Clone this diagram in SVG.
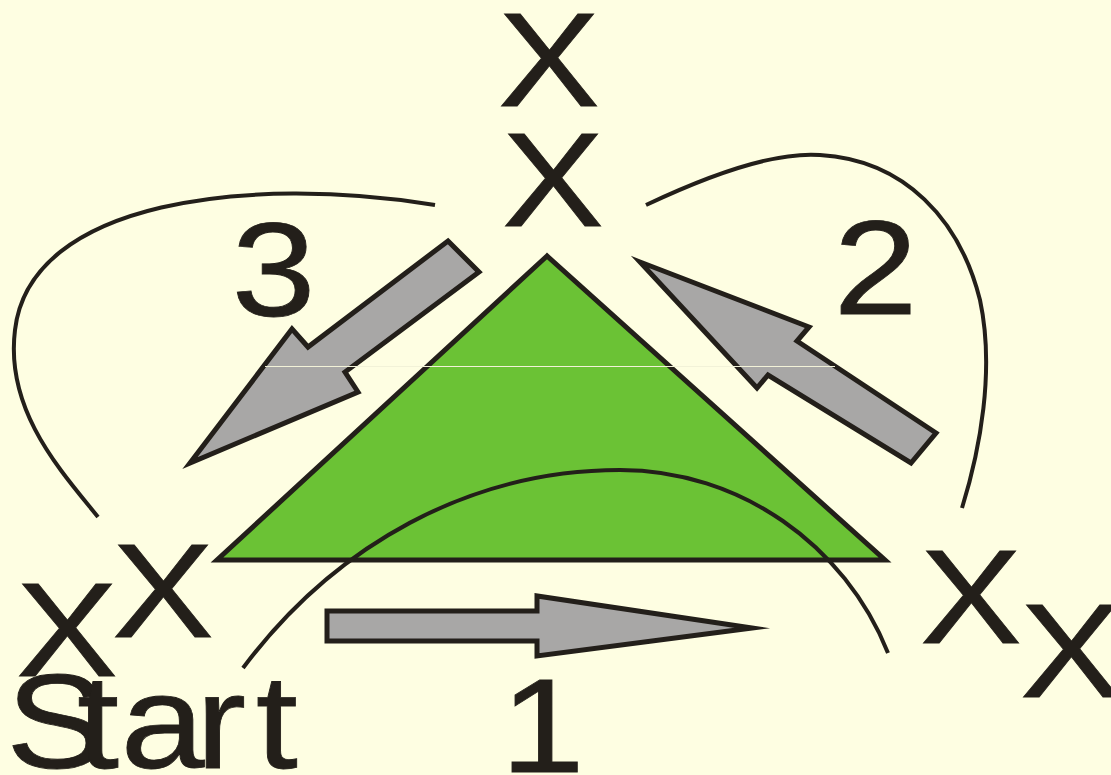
<svg xmlns="http://www.w3.org/2000/svg" width="1111" height="775" viewBox="0 0 1111 775">
<style>
.t{font-family:"Liberation Sans",Arial,sans-serif;font-size:134px;fill:#231F1A;stroke:#231F1A;stroke-width:0.8}
.arr{fill:#A8A7A6;stroke:#231F1A;stroke-width:5;stroke-linejoin:miter;stroke-miterlimit:20}
.cur{fill:none;stroke:#231F1A;stroke-width:4}
</style>
<rect width="1111" height="775" fill="#FEFEE2"/>
<g id="triangle">
<polygon points="547,256 217,560 885,560" fill="#6BC235" stroke="#231F1A" stroke-width="5" stroke-linejoin="miter" stroke-miterlimit="20"/>
</g>
<g id="connectors">
<path class="cur" d="M435,205 C250,175 30,200 15,330 C5,410 60,470 98,517"/>
<path class="cur" d="M646,205 C720,170 780,152 820,155 C905,160 960,220 980,300 C995,370 980,450 962,508"/>
<path class="cur" d="M243,668 C335,545 470,470 620,470 C740,470 845,545 888,653"/>
</g>
<g id="arrow1">
<polygon class="arr" points="327,611 537,611 537,596 752,628 537,656 537,641 327,641"/>
<text class="t" transform="translate(500.5,772) scale(1.13,1)">1</text>
</g>
<g id="arrow2">
<polygon class="arr" points="640,262 809,327 797,341 936,433 911,463 768,375 757,388"/>
<text class="t" transform="translate(833.5,314) scale(1.13,1)">2</text>
</g>
<g id="arrow3">
<polygon class="arr" points="448,241 479,272 345,372 358,392 190,463 292,329 308,347"/>
<text class="t" transform="translate(231.5,316) scale(1.13,1)">3</text>
</g>
<line x1="265" y1="366.5" x2="835" y2="366.5" stroke="#F2F2D8" stroke-width="1"/>
<g id="node-top">
<text class="t" transform="translate(498,106) scale(1.14,1)">X</text>
<text class="t" transform="translate(502,226) scale(1.14,1)">X</text>
</g>
<g id="node-left">
<text class="t" transform="translate(112,637) scale(1.14,1)">X</text>
<text class="t" transform="translate(16,676) scale(1.14,1)">X</text>
<text class="t" transform="translate(6,768) scale(1.13,1)" x="0 62.8 101.4 168 221">Start</text>
</g>
<g id="node-right">
<text class="t" transform="translate(920,643) scale(1.14,1)">X</text>
<text class="t" transform="translate(1020,697) scale(1.14,1)">X</text>
</g>
</svg>
